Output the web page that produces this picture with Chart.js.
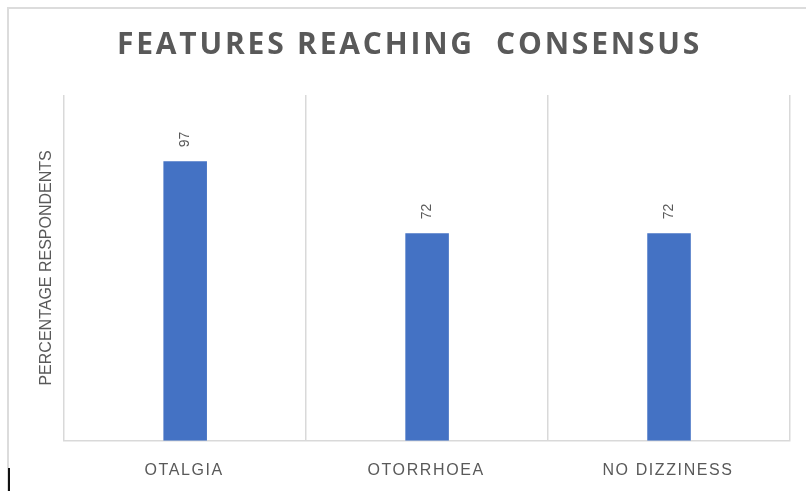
<!DOCTYPE html>
<html>
<head>
<meta charset="utf-8">
<script src="https://cdn.jsdelivr.net/npm/chart.js@4.4.0/dist/chart.umd.min.js"></script>
<style>
    body { margin: 0; background: #fff; }
    #quadro { position: relative; width: 806px; height: 491px; overflow: hidden; }
    #moldura { position: absolute; left: 7px; top: 7px; right: -10px; bottom: -10px; border-top: 2px solid #dcdcdc; border-left: 2px solid #dcdcdc; }
    #cursor { position: absolute; left: 8px; top: 468px; width: 2px; height: 23px; background: #111; }
    canvas { position: absolute; left: 0; top: 0; }
</style>
</head>
<body>
<div id="quadro">
    <div id="moldura"></div>
    <div id="cursor"></div>
    <canvas id="chartConsenso" width="806" height="491"></canvas>
</div>
<script>
const categorias = ['OTALGIA', 'OTORRHOEA', 'NO DIZZINESS'];
const valores = [97, 72, 72];
const tituloGrafico = 'FEATURES REACHING  CONSENSUS';
const tituloEixoY = 'PERCENTAGE RESPONDENTS';

const CINZA = '#595959';

// escreve os valores em pé, acima de cada barra
const rotulosBarras = {
    id: 'rotulosBarras',
    afterDatasetsDraw(chart) {
        const ctx = chart.ctx;
        const meta = chart.getDatasetMeta(0);
        ctx.save();
        ctx.font = '14px "Liberation Sans", sans-serif';
        ctx.fillStyle = CINZA;
        ctx.textAlign = 'left';
        ctx.textBaseline = 'middle';
        meta.data.forEach((barra, i) => {
            ctx.save();
            ctx.translate(barra.x, barra.y - 14);
            ctx.rotate(-Math.PI / 2);
            ctx.fillText(String(valores[i]), 0, 0);
            ctx.restore();
        });
        ctx.restore();
    }
};

// espaçamento entre letras no título e nos rótulos do eixo x
const espacamento = {
    id: 'espacamento',
    afterLayout(chart) {
        const t = chart.titleBlock;
        if (t && !t._espacado) {
            const desenhar = t.draw.bind(t);
            t.draw = function () {
                chart.ctx.save();
                chart.ctx.letterSpacing = '2.8px';
                chart.ctx.translate(-4, 0);
                desenhar();
                chart.ctx.restore();
            };
            t._espacado = true;
        }
        const x = chart.scales.x;
        if (x && !x._espacado) {
            const desenharLabels = x.drawLabels.bind(x);
            x.drawLabels = function (area) {
                chart.ctx.save();
                chart.ctx.letterSpacing = '1.6px';
                chart.ctx.translate(-1, 0);
                desenharLabels(area);
                chart.ctx.restore();
            };
            x._espacado = true;
        }
    }
};

new Chart(document.getElementById('chartConsenso'), {
    type: 'bar',
    data: {
        labels: categorias,
        datasets: [{
            label: '',
            data: valores,
            backgroundColor: '#4472C4',
            borderWidth: 0,
            categoryPercentage: 1,
            barPercentage: 0.18
        }]
    },
    options: {
        responsive: false,
        animation: false,
        layout: {
            padding: { left: 37, right: 16, top: 0, bottom: -9 }
        },
        scales: {
            x: {
                grid: {
                    display: true,
                    offset: true,
                    color: '#d9d9d9',
                    lineWidth: 1.5,
                    drawTicks: false
                },
                border: { display: true, color: '#d9d9d9', width: 1.5 },
                ticks: {
                    color: CINZA,
                    padding: 20,
                    font: { family: '"Liberation Sans", sans-serif', size: 16 }
                }
            },
            y: {
                min: 0,
                max: 120,
                grid: { display: false },
                border: { display: false },
                ticks: { display: false },
                title: {
                    display: true,
                    text: tituloEixoY,
                    color: CINZA,
                    padding: 0,
                    font: { family: '"Liberation Sans", sans-serif', size: 16 }
                }
            }
        },
        plugins: {
            legend: { display: false },
            tooltip: { enabled: false },
            title: {
                display: true,
                text: tituloGrafico,
                color: CINZA,
                padding: { top: 27, bottom: 32 },
                font: { family: '"Open Sans", sans-serif', size: 30, weight: 'bold' }
            }
        }
    },
    plugins: [rotulosBarras, espacamento]
});
</script>
</body>
</html>
